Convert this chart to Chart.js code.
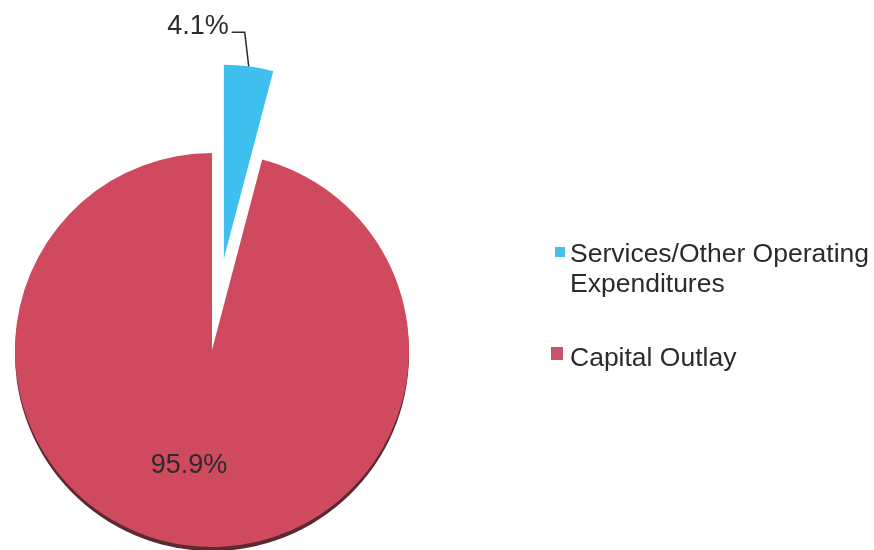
<!DOCTYPE html>
<html>
<head>
<meta charset="utf-8">
<script src="https://cdn.jsdelivr.net/npm/chart.js@4.4.1/dist/chart.umd.min.js"></script>
<style>
    html, body { margin: 0; padding: 0; background: #fff; }
    #wrap { position: relative; width: 874px; height: 550px; }
    #expChart { position: absolute; left: 0; top: 0; }
    .legend { position: absolute; left: 551px; top: 0; font-family: "Liberation Sans", Arial, sans-serif; font-size: 26.5px; color: #2b2b2b; }
    .item { position: absolute; white-space: nowrap; line-height: 30px; }
    .box { position: absolute; }
</style>
</head>
<body>
<div id="wrap">
    <canvas id="expChart" width="874" height="550"></canvas>
    <div class="legend" id="legend"></div>
</div>
<script>
// Data
const categories = ["Services/Other Operating Expenditures", "Capital Outlay"];
const legendLines = [["Services/Other Operating", "Expenditures"], ["Capital Outlay"]];
const shares = [4.1, 95.9];
const colors = ["#3fbfee", "#cf4a5e"];
const legendColors = ["#45c0ee", "#c9536a"];

// how far the small slice is pulled out, and how much smaller it is
const EXPLODE = 92;
const EXPLODE_SHRINK = 3;

const explodePlugin = {
    id: "explode",
    afterDatasetUpdate(chart, args) {
        const arc = args.meta.data[0];
        const mid = (arc.startAngle + arc.endAngle) / 2;
        arc.x += Math.cos(mid) * EXPLODE;
        arc.y += Math.sin(mid) * EXPLODE;
        arc.outerRadius -= EXPLODE_SHRINK;
        arc.$exploded = true;
    }
};

// Percentage labels + leader line, plus a dark rim for the 3D look
const labelPlugin = {
    id: "pieLabels",
    beforeDatasetsDraw(chart) {
        const arc = chart.getDatasetMeta(0).data[1];
        const ctx = chart.ctx;
        ctx.save();
        ctx.fillStyle = "#5a2a33";
        ctx.beginPath();
        ctx.moveTo(arc.x, arc.y + 4);
        ctx.arc(arc.x, arc.y + 4, arc.outerRadius, arc.startAngle, arc.endAngle);
        ctx.closePath();
        ctx.fill();
        ctx.restore();
    },
    afterDatasetsDraw(chart) {
        const ctx = chart.ctx;
        const meta = chart.getDatasetMeta(0);
        ctx.save();
        ctx.font = "27px 'Liberation Sans', Arial, sans-serif";
        ctx.fillStyle = "#2b2b2b";
        meta.data.forEach((arc, i) => {
            const mid = (arc.startAngle + arc.endAngle) / 2;
            const txt = shares[i].toFixed(1) + "%";
            if (arc.$exploded) {
                const ax = arc.x + Math.cos(mid) * arc.outerRadius;
                const ay = arc.y + Math.sin(mid) * arc.outerRadius;
                ctx.strokeStyle = "#2b2b2b";
                ctx.lineWidth = 1.5;
                ctx.beginPath();
                ctx.moveTo(ax, ay);
                ctx.lineTo(ax - 4, ay - 34);
                ctx.lineTo(ax - 17, ay - 34);
                ctx.stroke();
                ctx.textAlign = "right";
                ctx.textBaseline = "alphabetic";
                ctx.fillText(txt, ax - 20, ay - 32);
            } else {
                const r = arc.outerRadius * 0.59;
                ctx.textAlign = "center";
                ctx.textBaseline = "middle";
                ctx.fillText(txt, arc.x + Math.cos(mid) * r - 8, arc.y + Math.sin(mid) * r);
            }
        });
        ctx.restore();
    }
};

const ctx = document.getElementById("expChart").getContext("2d");
new Chart(ctx, {
    type: "pie",
    data: {
        labels: categories,
        datasets: [{
            data: shares,
            backgroundColor: colors,
            borderWidth: 0,
            radius: 197,
            clip: false
        }]
    },
    options: {
        responsive: false,
        animation: false,
        layout: { padding: { left: 15, top: 153, right: 465, bottom: 3 } },
        plugins: {
            legend: { display: false },
            tooltip: { enabled: false }
        }
    },
    plugins: [explodePlugin, labelPlugin]
});

// HTML legend
const legendEl = document.getElementById("legend");
const itemTops = [238, 342];
const boxSpecs = [{ x: 4, y: 247, w: 10, h: 10 }, { x: 0, y: 347, w: 12, h: 13 }];
categories.forEach((c, i) => {
    const b = document.createElement("div");
    b.className = "box";
    b.style.left = boxSpecs[i].x + "px";
    b.style.top = boxSpecs[i].y + "px";
    b.style.width = boxSpecs[i].w + "px";
    b.style.height = boxSpecs[i].h + "px";
    b.style.background = legendColors[i];
    legendEl.appendChild(b);
    const t = document.createElement("div");
    t.className = "item";
    t.style.left = "19px";
    t.style.top = itemTops[i] + "px";
    t.innerHTML = legendLines[i].join("<br>");
    legendEl.appendChild(t);
});
</script>
</body>
</html>
